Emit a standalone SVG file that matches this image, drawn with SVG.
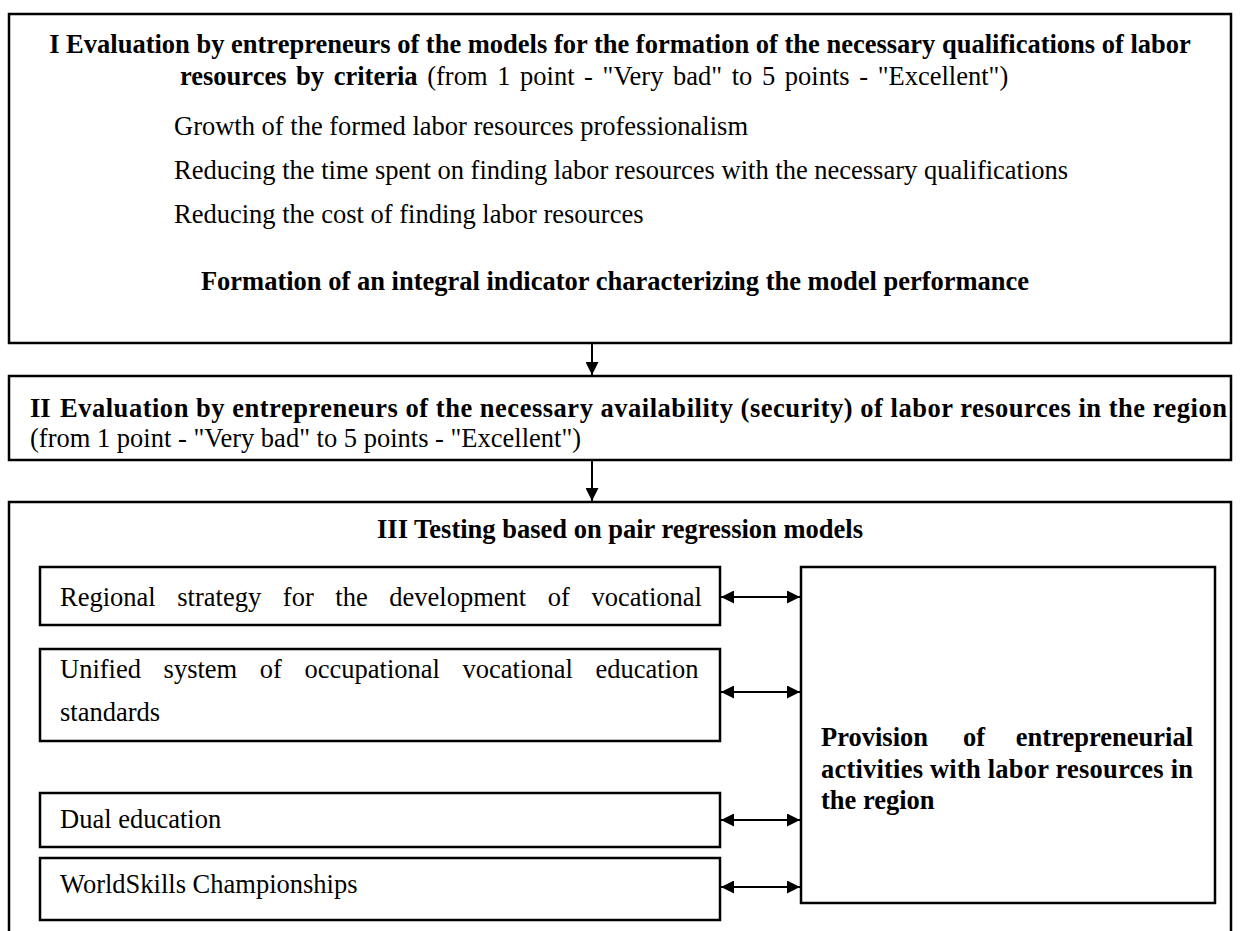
<svg xmlns="http://www.w3.org/2000/svg" width="1241" height="931" viewBox="0 0 1241 931">
<defs>
<style>
.box{fill:#fff;stroke:#000;stroke-width:2.5}
.t{font-family:"Liberation Serif","Times New Roman",serif;font-size:26.5px;fill:#000}
.b{font-weight:bold}
.c{stroke:#000;stroke-width:2;fill:none}
</style>
<marker id="ah" viewBox="0 0 13 13" refX="13" refY="6.5" markerWidth="13" markerHeight="13" markerUnits="userSpaceOnUse" orient="auto-start-reverse">
<path d="M0,0 L13,6.5 L0,13 z" fill="#000"/>
</marker>
</defs>
<rect width="1241" height="931" fill="#fff"/>
<g id="node-I">
<rect class="box" x="9" y="14" width="1222" height="329"/>
<text class="t b" x="620" y="53" text-anchor="middle">I Evaluation by entrepreneurs of the models for the formation of the necessary qualifications of labor</text>
<text class="t" x="180" y="85" word-spacing="3"><tspan class="b">resources by criteria</tspan> (from 1 point - "Very bad" to 5 points - "Excellent")</text>
<text class="t" x="174" y="135">Growth of the formed labor resources professionalism</text>
<text class="t" x="174" y="179">Reducing the time spent on finding labor resources with the necessary qualifications</text>
<text class="t" x="174" y="223">Reducing the cost of finding labor resources</text>
<text class="t b" x="615" y="290" text-anchor="middle">Formation of an integral indicator characterizing the model performance</text>
</g>
<g id="node-II">
<rect class="box" x="9" y="376" width="1222" height="84"/>
<text class="t b" x="30" y="417">II</text>
<text class="t b" x="60" y="417" textLength="1167" lengthAdjust="spacing">Evaluation by entrepreneurs of the necessary availability (security) of labor resources in the region</text>
<text class="t" x="30" y="447">(from 1 point - "Very bad" to 5 points - "Excellent")</text>
</g>
<g id="node-III">
<rect class="box" x="9" y="502" width="1222" height="440"/>
<text class="t b" x="620" y="538" text-anchor="middle">III Testing based on pair regression models</text>
</g>
<g id="node-A">
<rect class="box" x="40" y="567" width="680" height="58"/>
<text class="t" x="60" y="606" word-spacing="15">Regional strategy for the development of vocational</text>
</g>
<g id="node-B">
<rect class="box" x="40" y="649" width="680" height="92"/>
<text class="t" x="60" y="678" word-spacing="16">Unified system of occupational vocational education</text>
<text class="t" x="60" y="721">standards</text>
</g>
<g id="node-C">
<rect class="box" x="40" y="793" width="680" height="54"/>
<text class="t" x="60" y="828">Dual education</text>
</g>
<g id="node-D">
<rect class="box" x="40" y="858" width="680" height="62"/>
<text class="t" x="60" y="893">WorldSkills Championships</text>
</g>
<g id="node-P">
<rect class="box" x="801" y="567" width="414" height="336"/>
<text class="t b" x="821" y="746">Provision</text>
<text class="t b" x="974" y="746" text-anchor="middle">of</text>
<text class="t b" x="1193" y="746" text-anchor="end">entrepreneurial</text>
<text class="t b" x="821" y="778" textLength="372" lengthAdjust="spacing">activities with labor resources in</text>
<text class="t b" x="821" y="809">the region</text>
</g>
<g id="connectors">
<line class="c" x1="592" y1="343" x2="592" y2="375" marker-end="url(#ah)"/>
<line class="c" x1="592" y1="460" x2="592" y2="501" marker-end="url(#ah)"/>
<line class="c" x1="721" y1="597" x2="800" y2="597" marker-start="url(#ah)" marker-end="url(#ah)"/>
<line class="c" x1="721" y1="692" x2="800" y2="692" marker-start="url(#ah)" marker-end="url(#ah)"/>
<line class="c" x1="721" y1="820" x2="800" y2="820" marker-start="url(#ah)" marker-end="url(#ah)"/>
<line class="c" x1="721" y1="887" x2="800" y2="887" marker-start="url(#ah)" marker-end="url(#ah)"/>
</g>
</svg>
